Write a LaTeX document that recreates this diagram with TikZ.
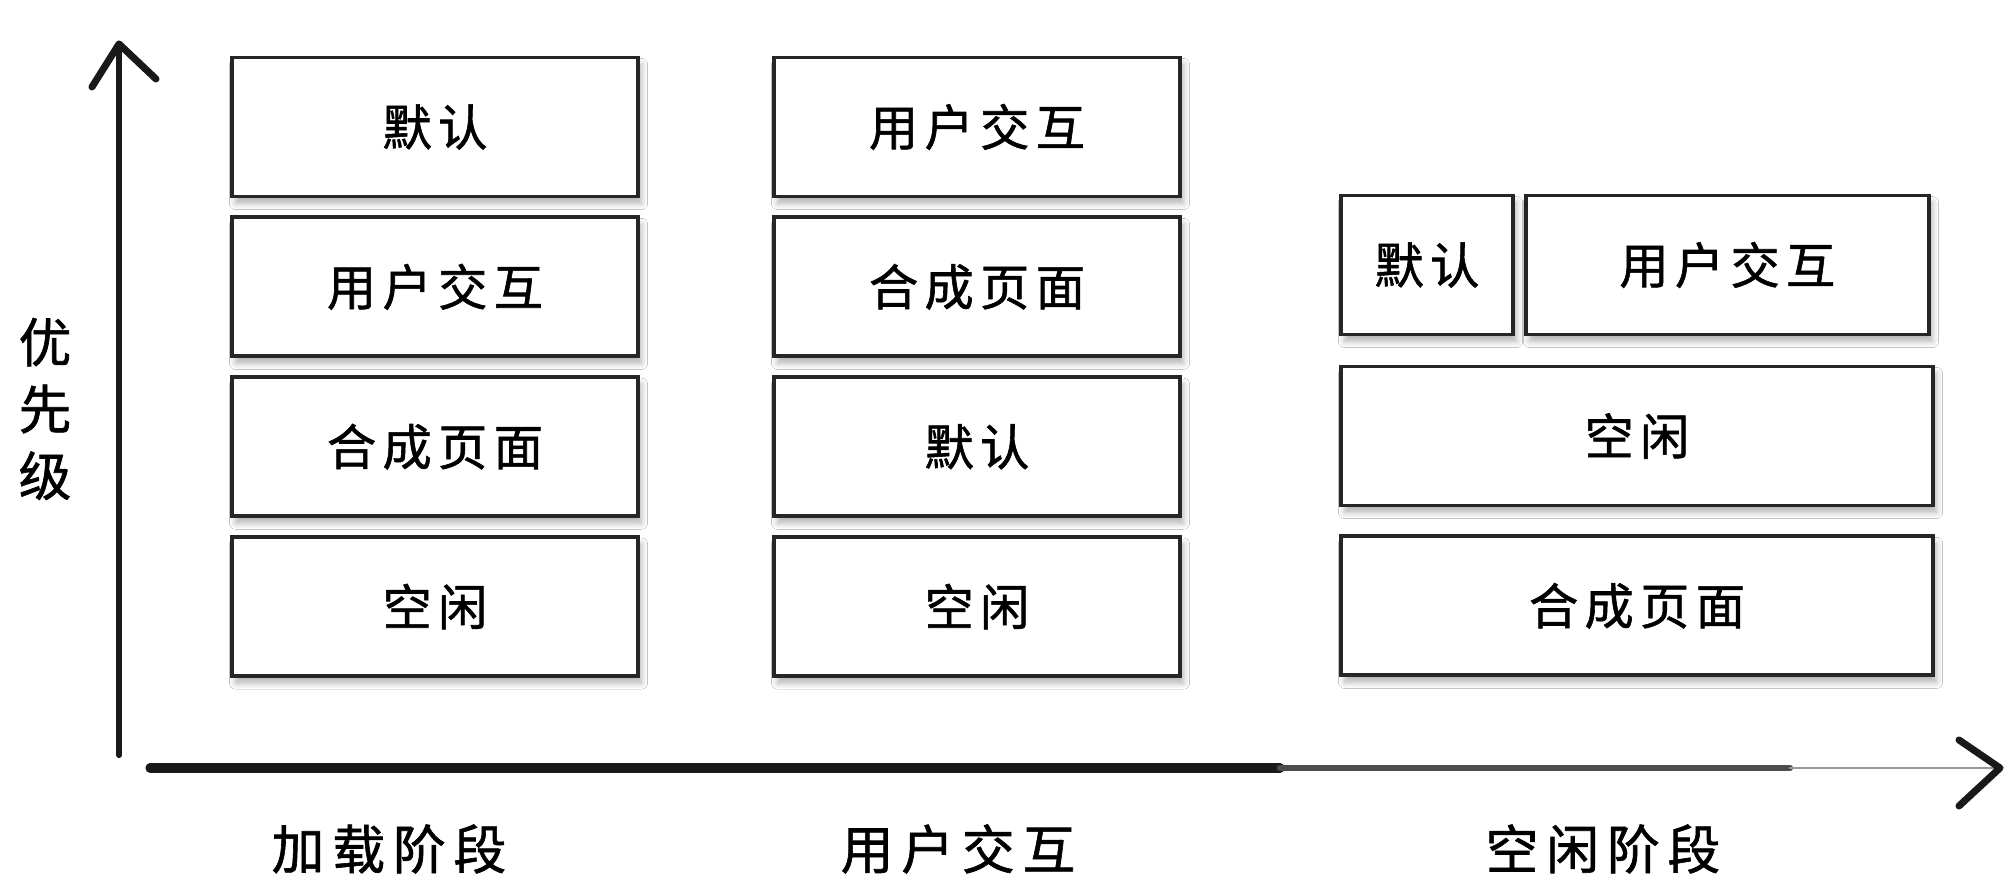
\documentclass[tikz,border=0pt]{standalone}
\usepackage{fontspec}
\usepackage{tikz}
\usetikzlibrary{positioning,shadows,shadows.blur}
\newfontfamily\cjk[LetterSpace=13,FakeBold=1.2]{Noto Sans CJK SC}
\newfontfamily\cjkwide[LetterSpace=15,FakeBold=1.2]{Noto Sans CJK SC}
\newfontfamily\cjkplain[FakeBold=1.2]{Noto Sans CJK SC}
\tikzset{task/.style={rectangle,draw=black!85,line width=1.1pt,fill=white,
minimum width=4.06cm,minimum height=1.39cm,inner sep=0pt,
font=\cjk\fontsize{14}{14}\selectfont,
blur shadow={shadow xshift=1pt,shadow yshift=-2pt,shadow opacity=30,shadow blur steps=6}},
taskwide/.style={task,minimum width=5.92cm},
tasksmall/.style={task,minimum width=1.72cm},
tasknarrow/.style={task,minimum width=4.03cm},
phase/.style={inner sep=0pt,font=\cjkwide\fontsize{15}{15}\selectfont},
axis/.style={draw=black!90,line width=1.8pt,line cap=round},
barb/.style={draw=black!90,line width=2pt,line cap=round,line join=round}}
\newcommand{\prioStack}[6]{
\node (#1a) [task] at #2 {#3};
\node (#1b) [task,below=0.17cm of #1a] {#4};
\node (#1c) [task,below=0.17cm of #1b] {#5};
\node (#1d) [task,below=0.17cm of #1c] {#6};
}
\begin{document}
\begin{tikzpicture}
  \useasboundingbox [fill=white] (0,0) rectangle (20.08,8.96);

  \coordinate (yfoot) at (1.19,1.41);
  \coordinate (ytip) at (1.19,8.52);
  \coordinate (ybarbl) at (0.92,8.09);
  \coordinate (ybarbr) at (1.56,8.17);
  \coordinate (xfoot) at (1.50,1.28);
  \coordinate (xmid) at (12.8,1.28);
  \coordinate (xthin) at (17.9,1.28);
  \coordinate (xtip) at (20.0,1.28);
  \coordinate (xbarbu) at (19.59,1.56);
  \coordinate (xbarbd) at (19.59,0.90);

  \draw [axis] (yfoot) -- (ytip);
  \draw [barb] (ybarbl) -- (ytip) -- (ybarbr);
  \draw [axis,line width=2.6pt] (xfoot) -- (xmid);
  \draw [axis,draw=black!70] (xmid) -- (xthin);
  \draw [axis,draw=black!40,line width=0.8pt] (xthin) -- (xtip);
  \draw [barb] (xbarbu) -- (xtip) -- (xbarbd);

  \node (priority) [align=center,inner sep=0pt,font=\cjkplain\fontsize{15}{19}\selectfont] at (0.45,4.87) {优\\先\\级};

  \prioStack{load}{(4.35,7.69)}{默认}{用户交互}{合成页面}{空闲}
  \prioStack{input}{(9.77,7.69)}{用户交互}{合成页面}{默认}{空闲}

  \node (idlea) [tasksmall] at (14.27,6.31) {默认};
  \node (idleb) [tasknarrow,right=0.09cm of idlea] {用户交互};
  \node (idlec) [taskwide] at (16.37,4.60) {空闲};
  \node (idled) [taskwide,below=0.27cm of idlec] {合成页面};

  \node (loadphase) [phase] at (3.89,0.47) {加载阶段};
  \node (inputphase) [phase] at (9.58,0.47) {用户交互};
  \node (idlephase) [phase] at (16.03,0.47) {空闲阶段};
\end{tikzpicture}
\end{document}
